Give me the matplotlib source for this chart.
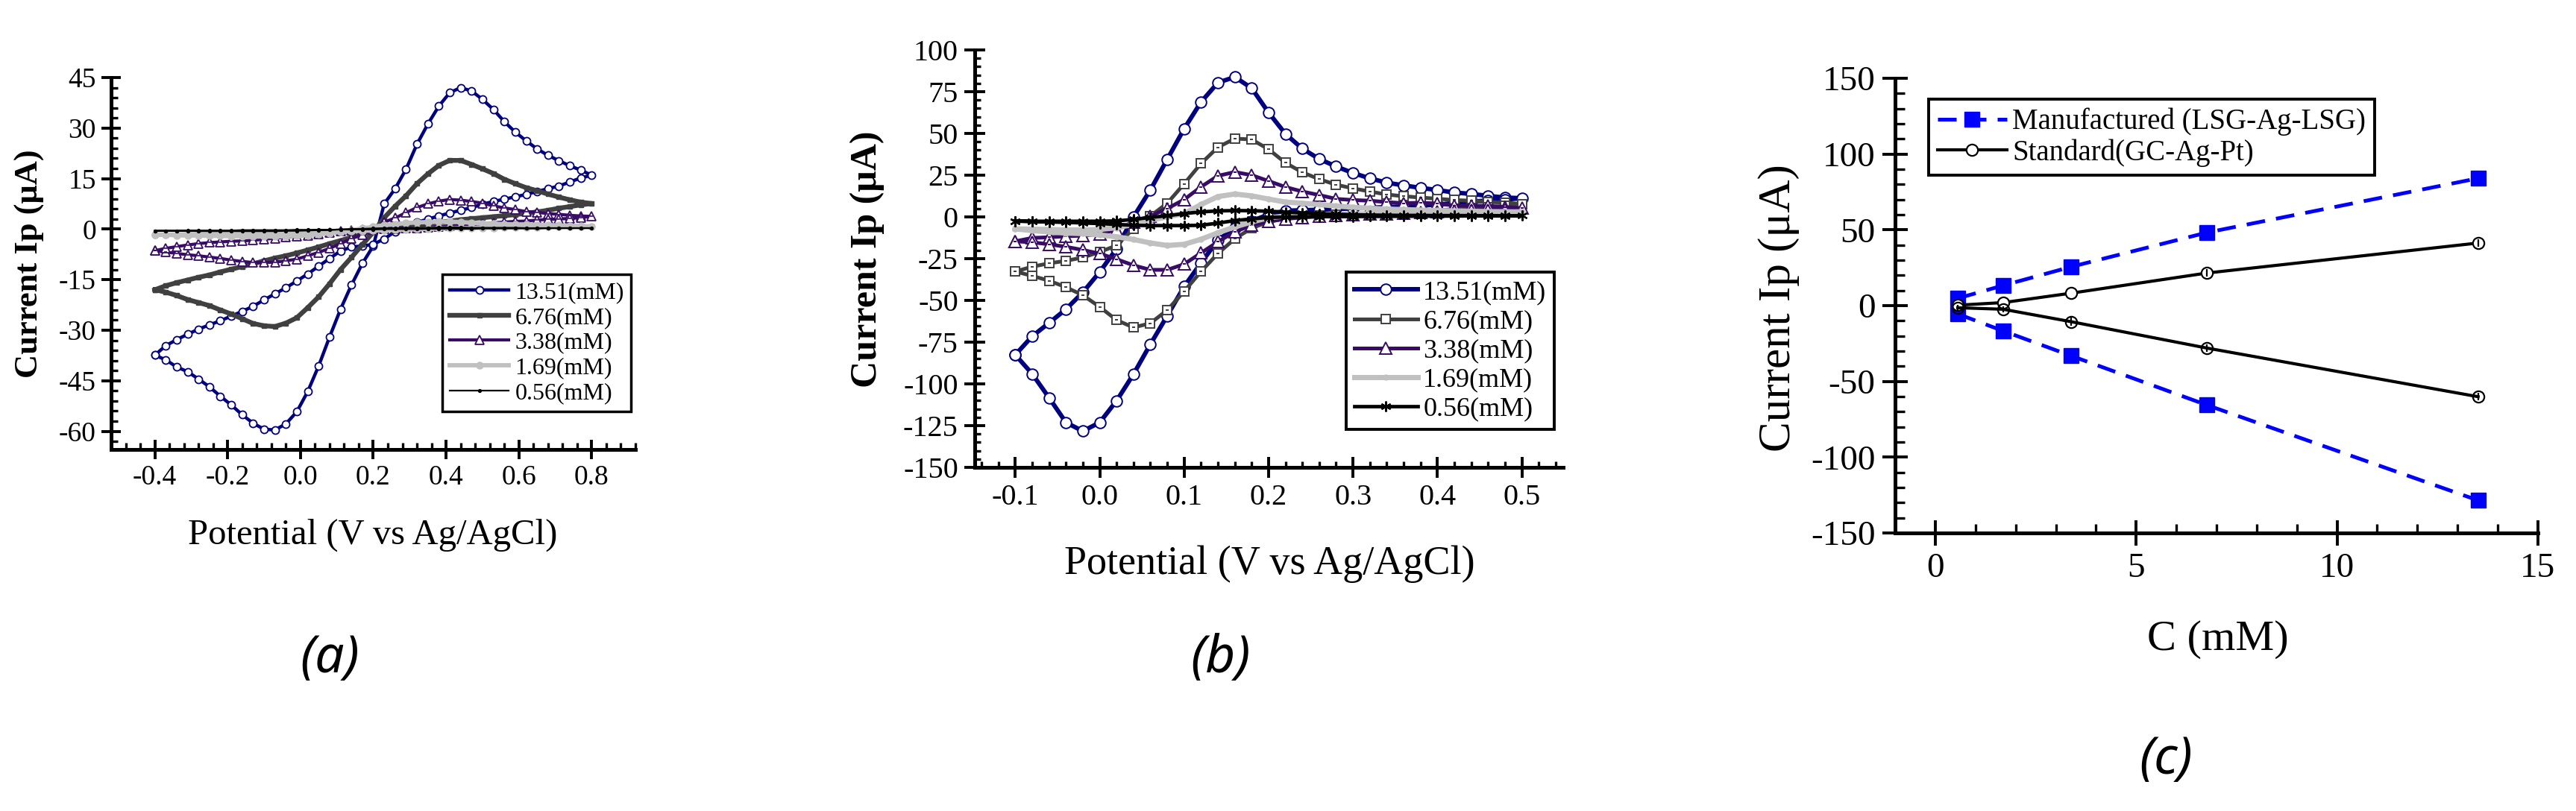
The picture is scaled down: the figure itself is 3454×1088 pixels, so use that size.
import matplotlib
matplotlib.use('Agg')
import matplotlib.pyplot as plt
from matplotlib.ticker import MultipleLocator, FormatStrFormatter

plt.rcParams['font.family'] = 'Liberation Serif'
plt.rcParams['axes.unicode_minus'] = False

# ---- panel (a): CV curves, potential sweep -0.4 .. 0.8 V
pot_a = [-0.40, -0.37, -0.34, -0.31, -0.28, -0.25, -0.22, -0.19, -0.16, -0.13,
         -0.10, -0.07, -0.04, -0.01, 0.02, 0.05, 0.08, 0.11, 0.14, 0.17,
         0.20, 0.23, 0.26, 0.29, 0.32, 0.35, 0.38, 0.41, 0.44, 0.47,
         0.50, 0.53, 0.56, 0.59, 0.62, 0.65, 0.68, 0.71, 0.74, 0.77, 0.80]

a13_fwd = [-37.4, -38.8, -40.9, -42.3, -44.5, -46.8, -49.6, -52.2, -55.1, -57.6,
           -59.4, -59.6, -57.8, -54.2, -48.2, -40.6, -32.0, -23.8, -16.6, -10.2,
           -5.0, 7.5, 12.0, 17.8, 25.2, 31.2, 36.5, 40.5, 42.0, 41.0,
           38.5, 35.5, 31.9, 28.8, 26.2, 23.8, 21.9, 20.3, 18.8, 17.5, 16.0]
a13_rev = [-37.4, -34.6, -32.8, -31.2, -29.7, -28.4, -27.2, -25.8, -24.4, -22.9,
           -21.0, -19.2, -17.4, -15.4, -13.3, -11.0, -8.7, -6.5, -5.3, -5.0,
           -4.5, -2.9, -0.7, 0.8, 2.0, 3.0, 3.9, 4.8, 5.6, 6.4,
           7.4, 8.2, 8.9, 9.6, 10.3, 11.2, 12.0, 12.8, 14.0, 15.2, 16.0]

a6_fwd = [-18.0, -18.7, -19.7, -20.9, -21.8, -22.7, -24.0, -25.2, -26.6, -28.0,
          -28.7, -28.9, -27.9, -26.3, -23.3, -20.1, -16.2, -12.0, -8.4, -4.6,
          -0.9, 3.4, 6.8, 9.9, 13.5, 16.4, 18.9, 20.4, 20.4, 19.2,
          17.9, 16.5, 14.8, 13.5, 12.3, 11.4, 10.4, 9.5, 8.7, 8.0, 7.6]
a6_rev = [-18.0, -16.8, -15.9, -15.1, -14.3, -13.6, -12.7, -11.9, -11.1, -10.3,
          -9.4, -8.6, -7.9, -7.1, -6.2, -5.3, -4.3, -3.4, -2.4, -1.6,
          -0.8, 0.0, 0.6, 1.0, 1.3, 1.7, 2.0, 2.4, 2.8, 3.1,
          3.4, 3.7, 4.0, 4.3, 4.7, 5.1, 5.6, 6.2, 6.7, 7.2, 7.6]

a3_fwd = [-6.4, -6.8, -7.2, -7.6, -7.9, -8.3, -8.7, -9.2, -9.6, -9.9,
          -9.9, -9.8, -9.4, -8.9, -7.9, -6.9, -5.7, -4.3, -2.8, -1.6,
          0.0, 2.1, 3.3, 4.9, 6.4, 7.5, 8.3, 8.8, 8.6, 8.2,
          7.7, 6.9, 6.3, 5.8, 5.2, 5.0, 4.6, 4.4, 4.1, 3.9, 3.8]
a3_rev = [-6.4, -5.7, -5.2, -4.7, -4.3, -4.0, -3.8, -3.6, -3.5, -3.3,
          -3.0, -2.7, -2.4, -2.1, -1.8, -1.4, -1.0, -0.6, -0.4, -0.2,
          -0.1, 0.0, 0.1, 0.3, 0.4, 0.6, 0.8, 1.0, 1.2, 1.4,
          1.6, 1.9, 2.1, 2.3, 2.4, 2.7, 2.9, 3.0, 3.2, 3.4, 3.8]

a1_fwd = [-1.6, -1.7, -1.8, -1.9, -1.9, -2.0, -2.0, -2.1, -2.1, -2.2,
          -2.2, -2.2, -2.1, -2.0, -1.8, -1.5, -1.2, -0.8, -0.3, 0.2,
          0.7, 1.2, 1.5, 1.8, 2.0, 2.1, 2.2, 2.2, 2.1, 1.9,
          1.7, 1.6, 1.5, 1.4, 1.4, 1.3, 1.2, 1.1, 1.0, 0.9, 0.8]
a1_rev = [-1.6, -1.6, -1.6, -1.5, -1.5, -1.5, -1.4, -1.4, -1.4, -1.3,
          -1.3, -1.2, -1.2, -1.1, -1.0, -0.9, -0.8, -0.7, -0.6, -0.5,
          -0.4, -0.3, -0.2, -0.1, 0.0, 0.1, 0.2, 0.2, 0.3, 0.3,
          0.4, 0.4, 0.5, 0.5, 0.6, 0.6, 0.7, 0.7, 0.8, 0.8, 0.8]

a0_fwd = [-0.5, -0.5, -0.5, -0.5, -0.6, -0.6, -0.6, -0.6, -0.6, -0.6,
          -0.6, -0.6, -0.5, -0.5, -0.4, -0.3, -0.2, -0.1, 0.0, 0.1,
          0.2, 0.3, 0.3, 0.4, 0.4, 0.4, 0.5, 0.5, 0.5, 0.4,
          0.4, 0.4, 0.4, 0.4, 0.3, 0.3, 0.3, 0.3, 0.3, 0.3, 0.3]
a0_rev = [-0.5, -0.5, -0.5, -0.4, -0.4, -0.4, -0.4, -0.4, -0.3, -0.3,
          -0.3, -0.3, -0.3, -0.2, -0.2, -0.2, -0.2, -0.1, -0.1, -0.1,
          -0.1, 0.0, 0.0, 0.0, 0.0, 0.1, 0.1, 0.1, 0.1, 0.1,
          0.2, 0.2, 0.2, 0.2, 0.2, 0.2, 0.3, 0.3, 0.3, 0.3, 0.3]

# ---- panel (b): CV curves, potential sweep -0.1 .. 0.5 V
pot_b = [-0.10, -0.08, -0.06, -0.04, -0.02, 0.00, 0.02, 0.04, 0.06, 0.08,
         0.10, 0.12, 0.14, 0.16, 0.18, 0.20, 0.22, 0.24, 0.26, 0.28,
         0.30, 0.32, 0.34, 0.36, 0.38, 0.40, 0.42, 0.44, 0.46, 0.48, 0.50]

b13_fwd = [-82.6, -71.5, -63.5, -55.3, -45.2, -33.0, -19.0, 0.0, 16.1, 34.5,
           52.8, 68.8, 80.4, 83.8, 77.1, 62.5, 49.7, 40.9, 34.7, 30.2,
           26.3, 23.1, 20.5, 18.9, 17.4, 16.1, 14.6, 13.8, 12.6, 11.6, 11.2]
b13_rev = [-82.6, -94.0, -108.3, -123.1, -128.3, -123.1, -110.1, -94.2, -76.3, -59.2,
           -41.7, -27.5, -14.0, -6.5, -2.5, 1.5, 3.7, 4.0, 4.3, 4.7,
           5.1, 5.5, 5.9, 6.3, 6.8, 7.4, 8.3, 9.2, 9.8, 10.4, 11.2]

b6_fwd = [-32.7, -29.8, -27.8, -26.3, -24.3, -21.0, -17.1, -7.0, 0.5, 8.2,
          19.8, 32.0, 41.7, 46.9, 46.4, 40.5, 32.4, 26.7, 22.6, 19.3,
          17.1, 15.2, 13.4, 12.4, 11.6, 10.9, 10.1, 9.7, 8.9, 8.6, 7.7]
b6_rev = [-32.7, -35.3, -38.2, -42.1, -46.9, -53.9, -61.8, -66.2, -63.7, -55.8,
          -44.6, -32.7, -21.9, -13.1, -6.7, -3.0, -1.0, 0.2, 0.9, 1.4,
          1.8, 2.2, 2.6, 3.0, 3.5, 4.0, 4.6, 5.2, 5.8, 6.5, 7.7]

b3_fwd = [-14.6, -12.6, -12.2, -11.6, -11.2, -10.4, -7.5, -3.0, 0.5, 5.0,
          10.4, 18.0, 24.6, 26.9, 25.0, 21.5, 17.9, 15.2, 13.1, 10.8,
          10.1, 9.7, 8.9, 8.2, 8.5, 8.0, 6.8, 6.7, 6.6, 6.0, 5.2]
b3_rev = [-14.6, -15.2, -16.4, -17.9, -19.8, -22.0, -25.3, -29.0, -31.7, -31.7,
          -28.3, -21.6, -14.9, -8.9, -5.0, -2.6, -1.2, -0.3, 0.3, 0.8,
          1.2, 1.6, 2.0, 2.3, 2.6, 3.0, 3.4, 3.8, 4.2, 4.6, 5.2]

b1_fwd = [-7.2, -7.3, -7.5, -7.8, -7.8, -7.5, -6.5, -4.5, -2.0, 0.0,
          2.0, 7.4, 12.2, 13.7, 12.6, 10.7, 8.9, 8.2, 7.4, 6.5,
          5.8, 5.2, 4.7, 4.4, 4.1, 3.8, 3.6, 3.4, 3.2, 3.1, 3.0]
b1_rev = [-7.2, -8.2, -9.0, -9.7, -10.0, -10.8, -11.9, -13.5, -15.6, -17.1,
          -16.4, -13.4, -9.5, -6.0, -3.0, -0.5, 0.5, 0.9, 1.2, 1.5,
          1.7, 1.9, 2.0, 2.2, 2.3, 2.4, 2.5, 2.6, 2.7, 2.8, 3.0]

b0_fwd = [-2.5, -2.6, -2.6, -2.6, -2.6, -2.6, -2.4, -1.5, -0.3, 0.7,
          2.0, 3.0, 3.6, 3.8, 3.7, 3.4, 2.9, 2.4, 2.0, 1.6,
          1.3, 1.1, 1.0, 0.9, 0.9, 0.8, 0.8, 0.8, 0.7, 0.7, 0.7]
b0_rev = [-2.5, -2.8, -3.0, -3.3, -3.6, -4.0, -4.5, -5.0, -5.2, -5.2,
          -5.2, -5.0, -3.7, -2.2, -1.2, -0.3, -0.1, 0.0, 0.1, 0.2,
          0.2, 0.3, 0.3, 0.4, 0.4, 0.5, 0.5, 0.6, 0.6, 0.6, 0.7]

conc_labels = ['13.51(mM)', '6.76(mM)', '3.38(mM)', '1.69(mM)', '0.56(mM)']

# ---- panel (c): peak current vs concentration
conc = [0.56, 1.69, 3.38, 6.76, 13.51]
lsg_ox = [4.8, 13.3, 25.6, 48.2, 84.0]
lsg_red = [-5.5, -16.7, -33.1, -65.6, -128.5]
gc_ox = [0.3, 2.0, 8.2, 21.5, 41.3]
gc_red = [-1.4, -2.4, -10.6, -28.0, -60.1]
gc_ox_err = [0.0, 0.0, 0.0, 2.5, 2.5]
gc_red_err = [2.0, 2.0, 2.5, 2.5, 2.5]

W, H = 3455, 1088
fig = plt.figure(figsize=(W / 100, H / 100), dpi=100)


def px_box(left, top, right, bottom):
    return [left / W, 1 - bottom / H, (right - left) / W, (bottom - top) / H]


def fig_text(x, y, s, **kw):
    fig.text(x / W, 1 - y / H, s, ha='center', va='center', **kw)


def style_axes(ax, xmaj, xmin, ymaj, ymin, lsize, maj_len, min_len, pad):
    for side in ['top', 'right']:
        ax.spines[side].set_visible(False)
    for side in ['left', 'bottom']:
        ax.spines[side].set_linewidth(3.6)
    ax.xaxis.set_major_locator(MultipleLocator(xmaj))
    ax.xaxis.set_minor_locator(MultipleLocator(xmin))
    ax.yaxis.set_major_locator(MultipleLocator(ymaj))
    ax.yaxis.set_minor_locator(MultipleLocator(ymin))
    ax.tick_params(which='major', direction='inout', length=maj_len, width=2.8,
                   labelsize=lsize, pad=pad)
    ax.tick_params(which='minor', direction='in', length=min_len, width=2.4)


def loop(pot, fwd, rev):
    # forward sweep then back again
    return pot + pot[::-1][1:], fwd + rev[::-1][1:]


navy, dgray, purple, lgray = '#000080', '#404040', '#380b66', '#c0c0c0'

# ================= (a)
ax_a = fig.add_axes(px_box(149, 104, 852, 603))
styles_a = [
    dict(color=navy, lw=3.2, marker='o', ms=7.2, mfc='white', mec=navy, mew=1.3),
    dict(color=dgray, lw=4.6, marker='s', ms=4.2, mfc=dgray, mec=dgray),
    dict(color=purple, lw=3.0, marker='^', ms=9, mfc='white', mec=purple, mew=1.3),
    dict(color=lgray, lw=4.2, marker='o', ms=6.5, mfc=lgray, mec=lgray),
    dict(color='black', lw=1.6, marker='o', ms=2.8, mfc='black', mec='black'),
]
series_a = [(a13_fwd, a13_rev), (a6_fwd, a6_rev), (a3_fwd, a3_rev),
            (a1_fwd, a1_rev), (a0_fwd, a0_rev)]
for i, ((fwd, rev), st, lab) in enumerate(zip(series_a, styles_a, conc_labels)):
    xs, ys = loop(pot_a, fwd, rev)
    ax_a.plot(xs, ys, label=lab, **st)
    if i == 2:
        # small centre dot inside the open triangles
        ax_a.plot(xs, ys, ls='none', marker='_', ms=3, mew=1.2, color=purple)
ax_a.set_xlim(-0.52, 0.92)
ax_a.set_ylim(-65.4, 45)
style_axes(ax_a, 0.2, 0.04, 15, 3, 27, 19, 6.5, 5)
ax_a.xaxis.set_major_formatter(FormatStrFormatter('%.1f'))
leg = ax_a.legend(loc='upper left', bbox_to_anchor=(593 / W, 1 - 368 / H),
                  bbox_transform=fig.transFigure, borderaxespad=0, fontsize=23,
                  handlelength=2.5, handletextpad=0.25, labelspacing=0.14,
                  borderpad=0.3, fancybox=False, framealpha=1, edgecolor='black')
leg.get_frame().set_linewidth(2.5)

fig_text(40, 354, 'Current Ip (μA)', rotation=90, fontsize=32, fontweight='bold')
fig_text(500, 718, 'Potential (V vs Ag/AgCl)', fontsize=35)
fig_text(442, 884, '(a)', fontsize=50, style='italic', family='Noto Sans')

# ================= (b)
ax_b = fig.add_axes(px_box(1307, 67, 2096, 627))
styles_b = [
    dict(color=navy, lw=4.3, marker='o', ms=10.5, mfc='white', mec=navy, mew=1.4),
    dict(color=dgray, lw=3.6, marker='s', ms=8, mfc='white', mec=dgray, mew=1.4),
    dict(color=purple, lw=3.6, marker='^', ms=12, mfc='white', mec=purple, mew=1.4),
    dict(color=lgray, lw=5, marker='o', ms=5, mfc=lgray, mec=lgray),
    dict(color='black', lw=3.4, marker=(6, 2, 0), ms=10, mec='black', mew=1.6),
]
series_b = [(b13_fwd, b13_rev), (b6_fwd, b6_rev), (b3_fwd, b3_rev),
            (b1_fwd, b1_rev), (b0_fwd, b0_rev)]
for i, ((fwd, rev), st, lab) in enumerate(zip(series_b, styles_b, conc_labels)):
    xs, ys = loop(pot_b, fwd, rev)
    ax_b.plot(xs, ys, label=lab, **st)
    if i in (1, 2):
        # small centre mark inside the open squares / triangles
        ax_b.plot(xs, ys, ls='none', marker='_', ms=3.5, mew=1.4, color=st['color'])
ax_b.set_xlim(-0.148, 0.549)
ax_b.set_ylim(-150, 100)
style_axes(ax_b, 0.1, 0.02, 25, 5, 29, 20, 6, 6)
ax_b.xaxis.set_major_formatter(FormatStrFormatter('%.1f'))
leg = ax_b.legend(loc='upper left', bbox_to_anchor=(1805 / W, 1 - 365 / H),
                  bbox_transform=fig.transFigure, borderaxespad=0, fontsize=26,
                  handlelength=2.36, handletextpad=0.2, labelspacing=0.16,
                  borderpad=0.3, fancybox=False, framealpha=1, edgecolor='black')
leg.get_frame().set_linewidth(2.8)

fig_text(1163, 348, 'Current Ip (μA)', rotation=90, fontsize=36, fontweight='bold')
fig_text(1702, 757, 'Potential (V vs Ag/AgCl)', fontsize=39)
fig_text(1636, 884, '(b)', fontsize=50, style='italic', family='Noto Sans')

# ================= (c)
ax_c = fig.add_axes(px_box(2541, 105, 3403, 715))
blue = '#0000ff'
ax_c.plot(conc, lsg_ox, color=blue, lw=3.6, ls=(0, (5, 3)), marker='s', ms=15,
          mfc=blue, mec=blue, label='Manufactured (LSG-Ag-LSG)')
ax_c.plot(conc, lsg_red, color=blue, lw=3.6, ls=(0, (5, 3)), marker='s', ms=15,
          mfc=blue, mec=blue)
ax_c.plot(conc, gc_ox, color='black', lw=3.0, marker='o', ms=11, mfc='white',
          mec='black', mew=1.6, label='Standard(GC-Ag-Pt)')
ax_c.plot(conc, gc_red, color='black', lw=3.0, marker='o', ms=11, mfc='none',
          mec='black', mew=1.6)
ax_c.errorbar(conc, gc_ox, yerr=gc_ox_err, fmt='none', ecolor='black', elinewidth=1.6)
ax_c.errorbar(conc, gc_red, yerr=gc_red_err, fmt='none', ecolor='black', elinewidth=1.6)
ax_c.set_xlim(-1, 15)
ax_c.set_ylim(-150, 150)
style_axes(ax_c, 5, 1, 50, 10, 34, 24, 9, 7)
leg = ax_c.legend(loc='upper left', bbox_to_anchor=(2586 / W, 1 - 133 / H),
                  bbox_transform=fig.transFigure, borderaxespad=0, fontsize=28,
                  handlelength=2.4, handletextpad=0.18, labelspacing=0.1,
                  borderpad=0.3, fancybox=False, framealpha=1, edgecolor='black')
leg.get_frame().set_linewidth(2.8)

fig_text(2385, 413, 'Current Ip (μA)', rotation=90, fontsize=44)
fig_text(2974, 858, 'C (mM)', fontsize=42)
fig_text(2904, 1020, '(c)', fontsize=50, style='italic', family='Noto Sans')

fig.savefig('out.png', dpi=100)
